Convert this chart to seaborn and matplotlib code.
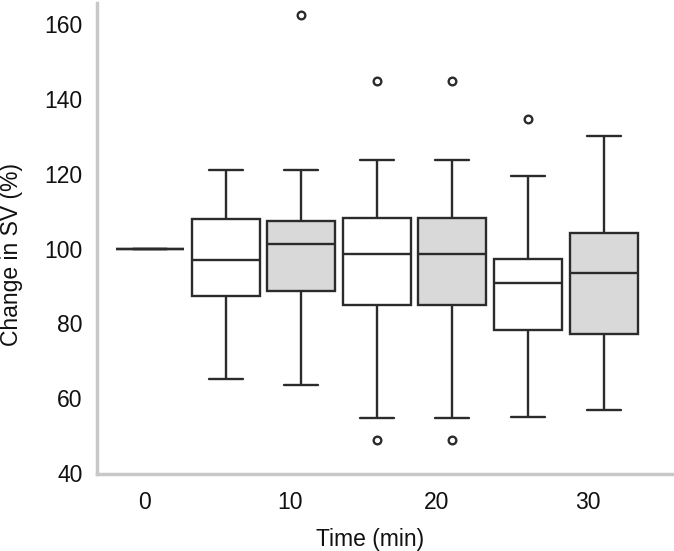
import numpy as np
import pandas as pd
import matplotlib
matplotlib.use('Agg')
import matplotlib.pyplot as plt
import seaborn as sns

# boxes (one slot per box)
slots = ['0', '10a', '10b', '20a', '20b', '30a', '30b']
wlo = [100, 65.2, 63.6, 54.8, 54.8, 55.1, 56.9]
q1 = [100, 87.4, 88.8, 85.0, 85.0, 78.3, 77.1]
med = [100, 97.0, 101.2, 98.6, 98.6, 90.8, 93.5]
q3 = [100, 108.0, 107.5, 108.2, 108.2, 97.3, 104.2]
whi = [100, 121.1, 121.1, 123.6, 123.6, 119.3, 130.2]
fills = ['white', 'white', '#d9d9d9', 'white', '#d9d9d9', 'white', '#d9d9d9']

# outliers
out_slot = ['10b', '20a', '20a', '20b', '20b', '30a']
out_val = [162.4, 144.7, 48.8, 144.7, 48.8, 134.7]

tick_lab = ['0', '10', '20', '30']
tick_pos = [-0.066, 1.852, 3.796, 5.794]

rows = []
for i, s in enumerate(slots):
    for v in (wlo[i], q1[i], med[i], q3[i], whi[i]):
        rows.append({'slot': s, 'sv': v})
df = pd.DataFrame(rows)
df_out = pd.DataFrame({'slot': out_slot, 'sv': out_val})

sns.set_style('white')
plt.rcParams['font.family'] = ['Liberation Sans', 'DejaVu Sans']

fig = plt.figure(figsize=(6.74, 5.51), dpi=100)
ax = fig.add_axes([97/674, 77/551, 575/674, 471/551])

sns.boxplot(data=df, x='slot', y='sv', order=slots, hue='slot', hue_order=slots,
            palette=dict(zip(slots, fills)), legend=False, whis=(0, 100),
            showfliers=False, width=0.9, linecolor='#2b2b2b', linewidth=1.7, ax=ax)
sns.stripplot(data=df_out, x='slot', y='sv', order=slots, jitter=False,
              color='white', edgecolor='#2b2b2b', linewidth=1.7, size=5.5, ax=ax)

ax.set_xlim(-0.70, 6.905)
ax.set_ylim(39.8, 165.6)
ax.set_yticks([40, 60, 80, 100, 120, 140, 160])
ax.set_xticks(tick_pos)
ax.set_xticklabels(tick_lab)
ax.tick_params(axis='both', length=0, labelsize=16.5, colors='#111111')
ax.tick_params(axis='x', pad=12)
ax.tick_params(axis='y', pad=10.5)
ax.set_xlabel('Time (min)', fontsize=16.5, color='#111111')
ax.set_ylabel('Change in SV (%)', fontsize=16.5, color='#111111')
ax.xaxis.set_label_coords((370 - 97) / 575, -0.115)
ax.yaxis.set_label_coords(-0.128, 0.467)

for sp in ['top', 'right']:
    ax.spines[sp].set_visible(False)
for sp in ['left', 'bottom']:
    ax.spines[sp].set_color('#c8c8c8')
    ax.spines[sp].set_linewidth(2.5)

plt.savefig('out.png', dpi=100)
